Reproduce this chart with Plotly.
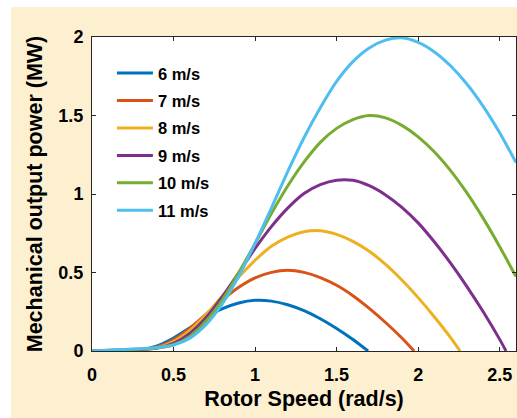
import plotly.graph_objects as go

# Rotor speed grid (rad/s)
rotor_speed = [0.0, 0.1, 0.2, 0.3, 0.4, 0.5, 0.6, 0.7, 0.8, 0.9, 1.0, 1.1, 1.2,
               1.3, 1.4, 1.5, 1.6, 1.7, 1.8, 1.9, 2.0, 2.1, 2.2, 2.3, 2.4, 2.5, 2.6]

# Speed at which each curve returns to zero power (None = stays above zero in range)
zero_speed = [1.693, 1.975, 2.257, 2.539, None, None]

wind_labels = ["6 m/s", "7 m/s", "8 m/s", "9 m/s", "10 m/s", "11 m/s"]

# Mechanical output power (MW) on the rotor speed grid
power_6 = [0, 0.0015, 0.003, 0.0087, 0.033, 0.083, 0.148, 0.2145, 0.2695, 0.306,
           0.3225, 0.3177, 0.2945, 0.257, 0.2057, 0.1438, 0.0735]
power_7 = [0, 0.002, 0.004, 0.0076, 0.026, 0.072, 0.1445, 0.2346, 0.326, 0.406,
           0.466, 0.501, 0.5145, 0.501, 0.4677, 0.4185, 0.352, 0.2716, 0.1816, 0.083]
power_8 = [0, 0.0025, 0.005, 0.0088, 0.0207, 0.0596, 0.1306, 0.232, 0.350, 0.471,
           0.578, 0.667, 0.726, 0.760, 0.766, 0.743, 0.698, 0.635, 0.552, 0.4527,
           0.340, 0.2166, 0.084]
power_9 = [0, 0.0032, 0.0065, 0.0098, 0.019, 0.049, 0.1126, 0.213, 0.348, 0.4986,
           0.653, 0.792, 0.910, 1.003, 1.060, 1.088, 1.087, 1.0526, 0.994, 0.915,
           0.816, 0.694, 0.558, 0.409, 0.248, 0.074]
power_10 = [0, 0.004, 0.008, 0.012, 0.0195, 0.040, 0.093, 0.192, 0.328, 0.499,
            0.684, 0.875, 1.051, 1.203, 1.329, 1.418, 1.474, 1.5, 1.485, 1.437,
            1.3635, 1.267, 1.147, 1.005, 0.843, 0.6645, 0.474]
power_11 = [0, 0.005, 0.0098, 0.0148, 0.0216, 0.0385, 0.082, 0.169, 0.301, 0.477,
            0.685, 0.910, 1.142, 1.358, 1.549, 1.717, 1.843, 1.930, 1.980, 1.995,
            1.966, 1.905, 1.815, 1.699, 1.557, 1.390, 1.200]

power_series = [power_6, power_7, power_8, power_9, power_10, power_11]

line_colors = ["#0072BD", "#D95319", "#EDB120", "#7E2F8E", "#77AC30", "#4DBEEE"]

FONT = "Liberation Sans, Arial, sans-serif"
AXIS_COLOR = "#262626"

fig = go.Figure()
for label, values, end, color in zip(wind_labels, power_series, zero_speed, line_colors):
    xs = rotor_speed[:len(values)]
    ys = list(values)
    if end is not None:
        xs = xs + [end]
        ys = ys + [0]
    fig.add_trace(go.Scatter(
        x=xs, y=ys, mode="lines", name=label, legendgroup=label,
        line=dict(color=color, width=3, shape="spline", smoothing=0.8),
    ))

axis_common = dict(
    showline=True, linecolor=AXIS_COLOR, linewidth=1, mirror="ticks",
    ticks="inside", ticklen=4, tickcolor=AXIS_COLOR, tickwidth=1,
    showgrid=False, zeroline=False,
    tickfont=dict(family=FONT, size=18, color="black", weight="bold"),
)

fig.update_layout(
    width=517, height=418,
    margin=dict(l=92, r=1, t=37, b=67, pad=0),
    paper_bgcolor="#FDF0D0",
    plot_bgcolor="white",
    font=dict(family=FONT, color="black"),
    xaxis=dict(
        range=[0, 2.6], dtick=0.5, tick0=0, ticklabelstandoff=7,
        title=dict(text="Rotor Speed (rad/s)", standoff=7,
                   font=dict(family=FONT, size=21.5, color="black", weight="bold")),
        **axis_common,
    ),
    yaxis=dict(
        range=[0, 2], dtick=0.5, tick0=0, ticklabelstandoff=4,
        title=dict(text="Mechanical output power (MW)", standoff=9,
                   font=dict(family=FONT, size=21.5, color="black", weight="bold")),
        **axis_common,
    ),
    legend=dict(
        x=0.047, y=0.94, xanchor="left", yanchor="top",
        bgcolor="rgba(0,0,0,0)", borderwidth=0, itemwidth=36,
        traceorder="grouped", tracegroupgap=3,
        font=dict(family=FONT, size=16.5, color="black", weight="bold"),
    ),
    showlegend=True,
    shapes=[
        # white strips along the top and left edges of the figure
        dict(type="rect", xref="paper", yref="paper", x0=-0.4, x1=1.2,
             y0=(351 - 7) / 314, y1=1.3, fillcolor="white", line_width=0, layer="below"),
        dict(type="rect", xref="paper", yref="paper", x0=-0.4, x1=(11 - 92) / 424,
             y0=-0.4, y1=1.3, fillcolor="white", line_width=0, layer="below"),
    ],
)

fig.write_html("out.html")
